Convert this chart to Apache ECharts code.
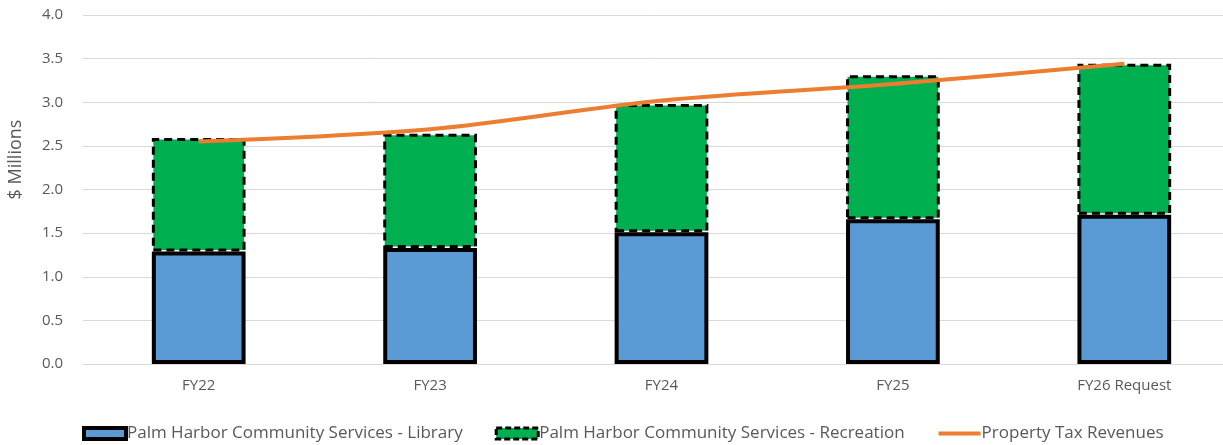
<!DOCTYPE html>
<html>
<head>
<meta charset="utf-8">
<script src="https://cdn.jsdelivr.net/npm/echarts@6/dist/echarts.min.js"></script>
<style>
  html, body { margin: 0; padding: 0; background: #fff; }
  #chart { width: 1223px; height: 445px; }
</style>
</head>
<body>
<div id="chart"></div>
<script>
var categories = ['FY22', 'FY23', 'FY24', 'FY25', 'FY26 Request'];
var library = [1.29, 1.33, 1.51, 1.66, 1.71];
var recreation = [1.30, 1.31, 1.47, 1.65, 1.73];
var propertyTax = [2.55, 2.69, 3.02, 3.21, 3.44];
var yTicks = [0, 4, 0.5];

var font = 'Open Sans';
var grey = '#595959';

var chart = echarts.init(document.getElementById('chart'));

var option = {
    animation: false,
    textStyle: { fontFamily: font },
    grid: { left: 83, width: 1157, top: 15, bottom: 81, outerBoundsMode: 'none', containLabel: false },
    legend: {
        bottom: -2,
        left: 77,
        itemGap: 32,
        itemWidth: 42,
        itemHeight: 11,
        textStyle: { color: grey, fontSize: 17, fontFamily: font, padding: [0, 0, 0, -4] },
        data: [
            {
                name: 'Palm Harbor Community Services - Library',
                icon: 'rect',
                itemStyle: { color: '#5b9bd5', borderColor: '#000', borderWidth: 4 }
            },
            {
                name: 'Palm Harbor Community Services - Recreation',
                icon: 'rect',
                itemStyle: { color: '#00b050', borderColor: '#000', borderWidth: 3, borderType: [6, 3] }
            },
            {
                name: 'Property Tax Revenues',
                itemStyle: { opacity: 0 },
                lineStyle: { color: '#ed7d31', width: 4 }
            }
        ]
    },
    xAxis: {
        type: 'category',
        data: categories,
        axisTick: { show: false },
        axisLine: { lineStyle: { color: '#d9d9d9', width: 1 } },
        axisLabel: { color: grey, fontSize: 15, margin: 14 }
    },
    yAxis: {
        type: 'value',
        min: yTicks[0],
        max: yTicks[1],
        interval: yTicks[2],
        name: '$ Millions',
        nameLocation: 'middle',
        nameGap: 58,
        nameTextStyle: { color: grey, fontSize: 18, padding: [0, 0, 0, 60] },
        axisLabel: {
            color: grey,
            fontSize: 15,
            margin: 20,
            formatter: function (v) { return v.toFixed(1); }
        },
        splitLine: { lineStyle: { color: '#d9d9d9', width: 1 } }
    },
    series: [
        {
            name: 'Palm Harbor Community Services - Library',
            type: 'bar',
            stack: 'total',
            barWidth: '40.5%',
            data: library,
            itemStyle: { color: '#5b9bd5', borderColor: '#000', borderWidth: 4 }
        },
        {
            name: 'Palm Harbor Community Services - Recreation',
            type: 'bar',
            stack: 'total',
            data: recreation,
            itemStyle: {
                color: '#00b050',
                borderColor: '#000',
                borderWidth: 3,
                borderType: [8, 5]
            }
        },
        {
            name: 'Property Tax Revenues',
            type: 'line',
            data: propertyTax,
            smooth: 0.3,
            showSymbol: false,
            symbol: 'none',
            lineStyle: { color: '#ed7d31', width: 4 },
            itemStyle: { color: '#ed7d31' }
        }
    ]
};

chart.setOption(option);
</script>
</body>
</html>
